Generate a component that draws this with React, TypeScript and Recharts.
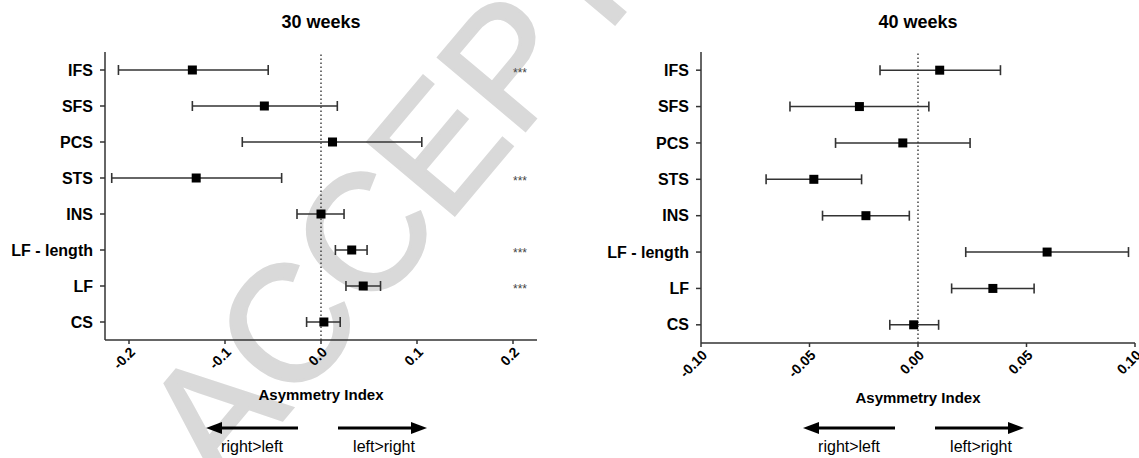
import { ErrorBar, ReferenceLine, Scatter, ScatterChart, XAxis, YAxis } from 'recharts';

const REGIONS = ['IFS', 'SFS', 'PCS', 'STS', 'INS', 'LF - length', 'LF', 'CS'];

// 30 weeks: asymmetry index, mean and 95% CI bounds
const W30_MEAN = [-0.134, -0.059, 0.012, -0.13, 0.0, 0.032, 0.044, 0.003];
const W30_LOW = [-0.211, -0.134, -0.082, -0.218, -0.025, 0.015, 0.026, -0.015];
const W30_HIGH = [-0.055, 0.017, 0.105, -0.041, 0.024, 0.048, 0.062, 0.02];
const W30_SIG = ['***', '', '', '***', '', '***', '***', ''];
const W30_TICKS = [-0.2, -0.1, 0, 0.1, 0.2];

// 40 weeks
const W40_MEAN = [0.01, -0.027, -0.007, -0.048, -0.024, 0.0595, 0.0345, -0.002];
const W40_LOW = [-0.0175, -0.059, -0.038, -0.07, -0.044, 0.022, 0.0155, -0.013];
const W40_HIGH = [0.038, 0.005, 0.024, -0.026, -0.004, 0.097, 0.0535, 0.0095];
const W40_SIG = ['', '', '', '', '', '', '', ''];
const W40_TICKS = [-0.1, -0.05, 0, 0.05, 0.1];

const FONT = '"Liberation Sans", Arial, Helvetica, sans-serif';
const AXIS = '#333';
const HEIGHT = 458;
const TOP = 52;

const Square = (p: any) => (
  <rect x={p.cx - 4.5} y={p.cy - 4.5} width={9} height={9} fill="#000" />
);

function Arrow({ from, tip, y }: { from: number; tip: number; y: number }) {
  const dir = Math.sign(tip - from);
  const base = tip - dir * 16;
  return (
    <g>
      <line x1={from} y1={y} x2={base} y2={y} stroke="#000" strokeWidth={3} />
      <polygon points={`${tip},${y} ${base},${y - 6} ${base},${y + 6}`} fill="#000" />
    </g>
  );
}

interface PanelProps {
  mean: number[];
  low: number[];
  high: number[];
  sig: string[];
  ticks: number[];
  domain: [number, number];
  digits: number;
  left: number;
  width: number;
  yAxisWidth: number;
  marginRight: number;
  plotBottom: number;
}

function Panel(props: PanelProps) {
  const { mean, low, high, sig, ticks, domain, digits, left, width, yAxisWidth, marginRight, plotBottom } = props;
  const rows = REGIONS.map((name, i) => ({
    name,
    value: mean[i],
    err: [mean[i] - low[i], high[i] - mean[i]],
    sig: sig[i],
  }));

  // significance stars sit at the right end of their row
  const starLabel = (text: string) => (p: any) => {
    const vb = p.viewBox || {};
    return (
      <text x={vb.x + vb.width - 17} y={vb.y + 7} textAnchor="middle" fontSize={12} fill="#444" fontFamily={FONT}>
        {text}
      </text>
    );
  };

  return (
    <div style={{ position: 'absolute', left, top: 0 }}>
      <ScatterChart
        width={width}
        height={HEIGHT}
        margin={{ top: TOP, right: marginRight, bottom: 0, left: 0 }}
      >
        <XAxis
          type="number"
          dataKey="value"
          domain={domain}
          allowDataOverflow
          ticks={ticks}
          interval={0}
          height={HEIGHT - plotBottom}
          stroke={AXIS}
          strokeWidth={1.5}
          tickSize={4}
          angle={-45}
          textAnchor="end"
          tickFormatter={(v: number) => v.toFixed(digits)}
          tick={{ fontSize: 14, fontWeight: 'bold', fill: '#000', fontFamily: FONT }}
        />
        <YAxis
          type="category"
          dataKey="name"
          reversed
          interval={0}
          width={yAxisWidth}
          stroke={AXIS}
          strokeWidth={1.5}
          tickSize={5}
          tickMargin={7}
          tick={{ fontSize: 16, fontWeight: 'bold', fill: '#000', fontFamily: FONT }}
        />
        <ReferenceLine x={0} stroke="#444" strokeWidth={1.5} strokeDasharray="1.5 2.5" />
        {rows
          .filter(r => r.sig)
          .map(r => (
            <ReferenceLine key={r.name} y={r.name} stroke="none" strokeOpacity={0} label={starLabel(r.sig)} />
          ))}
        <Scatter data={rows} shape={Square} isAnimationActive={false}>
          <ErrorBar dataKey="err" direction="x" width={5} stroke={AXIS} strokeWidth={1.6} isAnimationActive={false} />
        </Scatter>
      </ScatterChart>
    </div>
  );
}

function Notes({ cx, title, plotBottom }: { cx: number; title: string; plotBottom: number }) {
  return (
    <g fontFamily={FONT}>
      <text x={cx} y={28} textAnchor="middle" fontSize={18} fontWeight="bold">{title}</text>
      <text x={cx} y={plotBottom + 60} textAnchor="middle" fontSize={15} fontWeight="bold">Asymmetry Index</text>
      <Arrow from={cx - 23} tip={cx - 115} y={428} />
      <Arrow from={cx + 17} tip={cx + 106} y={428} />
      <text x={cx - 69} y={452} textAnchor="middle" fontSize={16}>right&gt;left</text>
      <text x={cx + 63} y={452} textAnchor="middle" fontSize={16}>left&gt;right</text>
    </g>
  );
}

export default function App() {
  return (
    <div style={{ position: 'absolute', left: 0, top: 0, width: 1139, height: HEIGHT, background: '#fff', overflow: 'hidden' }}>
      <svg width={1139} height={HEIGHT} style={{ position: 'absolute', left: 0, top: 0 }}>
        <text
          x={0}
          y={0}
          transform="translate(222,492) rotate(-50)"
          fontSize={165}
          fill="#d9d9d9"
          stroke="#d9d9d9"
          strokeWidth={3}
          fontFamily={FONT}
        >
          ACCEPTED
        </text>
        <Notes cx={321} title="30 weeks" plotBottom={340} />
        <Notes cx={918} title="40 weeks" plotBottom={343} />
      </svg>
      <Panel
        mean={W30_MEAN}
        low={W30_LOW}
        high={W30_HIGH}
        sig={W30_SIG}
        ticks={W30_TICKS}
        domain={[-0.225, 0.225]}
        digits={1}
        left={0}
        width={570}
        yAxisWidth={105}
        marginRight={33}
        plotBottom={340}
      />
      <Panel
        mean={W40_MEAN}
        low={W40_LOW}
        high={W40_HIGH}
        sig={W40_SIG}
        ticks={W40_TICKS}
        domain={[-0.1, 0.1]}
        digits={2}
        left={570}
        width={569}
        yAxisWidth={131}
        marginRight={4}
        plotBottom={343}
      />
    </div>
  );
}
